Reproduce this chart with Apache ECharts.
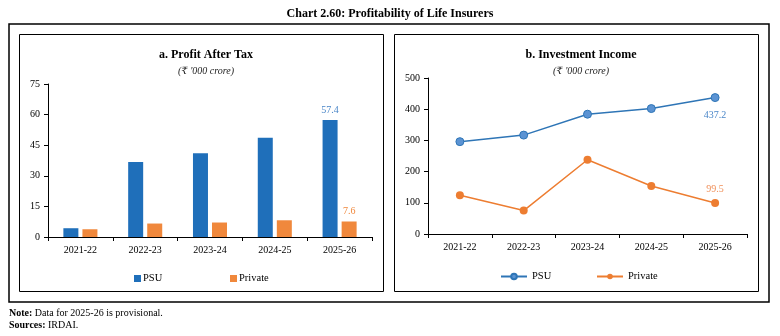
<!DOCTYPE html>
<html>
<head>
<meta charset="utf-8">
<script src="https://cdn.jsdelivr.net/npm/echarts@6/dist/echarts.min.js"></script>
<style>
html,body{margin:0;padding:0;background:#fff;}
#main{width:780px;height:336px;}
</style>
</head>
<body>
<div id="main"></div>
<script>
// categories
var years = ['2021-22','2022-23','2023-24','2024-25','2025-26'];
// a. Profit After Tax
var patPsu = [4.3, 36.8, 41.0, 48.6, 57.4];
var patPrivate = [3.8, 6.6, 7.1, 8.2, 7.6];
// b. Investment Income
var invPsu = [296, 317, 384, 402, 437.2];
var invPrivate = [124, 75, 238, 154, 99.5];

var FONT = '"Liberation Serif", "DejaVu Serif", serif';
var BLUE = '#1f6fba';
var ORANGE = '#f0883c';
var LBLUE = '#2e75b6';
var LORANGE = '#ed7d31';

// only the last point gets a value label
function lastLabel(arr, pos, color){
	return arr.map(function(v, i){
		if(i == arr.length - 1){
			return {value: v, label: {show: true, position: pos, distance: pos == 'top' ? 5 : 8, color: color, fontSize: 10, fontFamily: FONT}};
		}
		return v;
	});
}

var charts = echarts.init(document.getElementById('main'));
var axisLine = {show: true, lineStyle: {color: '#000', width: 1}};
var axisTick = {show: true, length: 4, lineStyle: {color: '#000'}};
var axisLabel = {color: '#000', fontSize: 10, fontFamily: FONT};
var legendText = {fontSize: 10.5, fontFamily: FONT, color: '#000'};
// square legend sits closer to its text in the reference
var legendTextTight = {fontSize: 10.5, fontFamily: FONT, color: '#000', padding: [0, 0, 0, -3]};

option = {
	animation: false,
	title: [
		{text: 'Chart 2.60: Profitability of Life Insurers', left: 'center', top: 3,
			textStyle: {fontSize: 12, fontWeight: 'bold', fontFamily: FONT, color: '#000'}},
		{text: 'a. Profit After Tax', subtext: "(\u20b9 '000 crore)", left: 201, textAlign: 'center', top: 44, itemGap: 5,
			textStyle: {fontSize: 12, fontWeight: 'bold', fontFamily: FONT, color: '#000'},
			subtextStyle: {fontSize: 10, fontStyle: 'italic', fontFamily: FONT, color: '#222'}},
		{text: 'b. Investment Income', subtext: "(\u20b9 '000 crore)", left: 576, textAlign: 'center', top: 44, itemGap: 5,
			textStyle: {fontSize: 12, fontWeight: 'bold', fontFamily: FONT, color: '#000'},
			subtextStyle: {fontSize: 10, fontStyle: 'italic', fontFamily: FONT, color: '#222'}}
	],
	legend: [
		{data: ['PSU'], left: 134, top: 273, padding: 0, itemWidth: 7, itemHeight: 7, itemGap: 0, icon: 'rect',
			textStyle: legendTextTight},
		{data: ['Private'], left: 230, top: 273, padding: 0, itemWidth: 7, itemHeight: 7, itemGap: 0, icon: 'rect',
			textStyle: legendTextTight},
		{data: ['PSU '], left: 500, top: 271, padding: 0, itemWidth: 26, itemHeight: 7,
			formatter: function(n){return n.trim();}, textStyle: legendText},
		{data: ['Private '], left: 596, top: 271, padding: 0, itemWidth: 26, itemHeight: 7,
			formatter: function(n){return n.trim();}, textStyle: legendText}
	],
	grid: [
		{left: 48, right: 408, top: 84, bottom: 99},
		{left: 428, right: 33, top: 78, bottom: 102}
	],
	xAxis: [
		{type: 'category', gridIndex: 0, data: years, axisLine: axisLine, axisTick: axisTick, axisLabel: axisLabel},
		{type: 'category', gridIndex: 1, data: years, axisLine: axisLine, axisTick: axisTick, axisLabel: axisLabel}
	],
	yAxis: [
		{type: 'value', gridIndex: 0, min: 0, max: 75, interval: 15, axisLine: axisLine, axisTick: axisTick,
			axisLabel: axisLabel, splitLine: {show: false}},
		{type: 'value', gridIndex: 1, min: 0, max: 500, interval: 100, axisLine: axisLine, axisTick: axisTick,
			axisLabel: axisLabel, splitLine: {show: false}}
	],
	series: [
		{name: 'PSU', type: 'bar', xAxisIndex: 0, yAxisIndex: 0, barWidth: 15, barGap: '27%',
			itemStyle: {color: BLUE}, data: lastLabel(patPsu, 'top', '#4a86c8')},
		{name: 'Private', type: 'bar', xAxisIndex: 0, yAxisIndex: 0, barWidth: 15,
			itemStyle: {color: ORANGE}, data: lastLabel(patPrivate, 'top', ORANGE)},
		{name: 'PSU ', type: 'line', xAxisIndex: 1, yAxisIndex: 1, symbol: 'circle', symbolSize: 8,
			lineStyle: {color: LBLUE, width: 1.5}, itemStyle: {color: '#5b93d3', borderColor: LBLUE, borderWidth: 1},
			data: lastLabel(invPsu, 'bottom', '#4a86c8')},
		{name: 'Private ', type: 'line', xAxisIndex: 1, yAxisIndex: 1, symbol: 'circle', symbolSize: 8,
			lineStyle: {color: LORANGE, width: 1.5}, itemStyle: {color: LORANGE},
			data: lastLabel(invPrivate, 'top', '#f0905a')}
	],
	graphic: [
		// outer frame and the two panel boxes
		{type: 'rect', shape: {x: 9, y: 24, width: 760, height: 278}, style: {fill: null, stroke: '#000', lineWidth: 1.5}},
		{type: 'rect', shape: {x: 19.5, y: 34.5, width: 364, height: 257}, style: {fill: null, stroke: '#000', lineWidth: 1}},
		{type: 'rect', shape: {x: 394.5, y: 34.5, width: 364, height: 257}, style: {fill: null, stroke: '#000', lineWidth: 1}},
		{type: 'text', left: 9, top: 307, style: {
			text: '{b|Note:} Data for 2025-26 is provisional.\n{b|Sources:} IRDAI.',
			font: '10px ' + FONT, fill: '#000', lineHeight: 12,
			rich: {b: {fontWeight: 'bold', fontSize: 10, fontFamily: FONT}}
		}}
	]
};
charts.setOption(option);
</script>
</body>
</html>
